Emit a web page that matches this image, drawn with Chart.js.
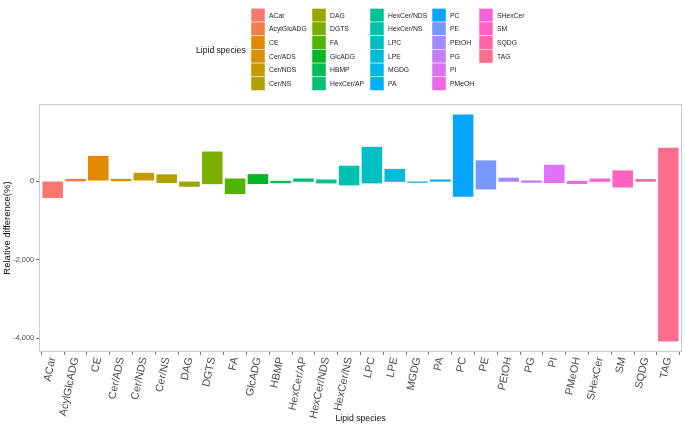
<!DOCTYPE html>
<html>
<head>
<meta charset="utf-8">
<script src="https://cdn.jsdelivr.net/npm/chart.js@4.4.1/dist/chart.umd.min.js"></script>
<style>
html,body{margin:0;padding:0;background:#fff;}
#wrap{width:685px;height:424px;position:relative;}
</style>
</head>
<body>
<div id="wrap"><canvas id="c" width="685" height="424"></canvas></div>
<script>
const categories = ["ACar","AcylGlcADG","CE","Cer/ADS","Cer/NDS","Cer/NS","DAG","DGTS","FA","GlcADG","HBMP","HexCer/AP","HexCer/NDS","HexCer/NS","LPC","LPE","MGDG","PA","PC","PE","PEtOH","PG","PI","PMeOH","SHexCer","SM","SQDG","TAG"];
const lowValues  = [-430, -10, 0, -5, 0, -50, -145, -80, -330, -75, -55, -20, -60, -110, -60, -20, -45, -15, -400, -215, -20, -45, -50, -75, -20, -165, -20, -4080];
const highValues = [0, 55, 640, 55, 210, 170, 0, 750, 65, 175, 5, 65, 40, 390, 870, 310, 0, 40, 1690, 525, 85, 15, 415, 5, 65, 270, 50, 850];
const yTicks = [-4000, -2000, 0];
const xTitle = "Lipid species";
const yTitle = "Relative difference(%)";
const legendTitle = "Lipid species";

// ggplot2 default hue palette (hcl, c=100, l=65)
function hcl(h, c, l) {
  const hr = h * Math.PI / 180;
  const U = c * Math.cos(hr), V = c * Math.sin(hr);
  const Xn = 95.047, Yn = 100, Zn = 108.883;
  const den = Xn + 15 * Yn + 3 * Zn;
  const un = 4 * Xn / den, vn = 9 * Yn / den;
  const Y = Yn * Math.pow((l + 16) / 116, 3);
  const up = U / (13 * l) + un, vp = V / (13 * l) + vn;
  const X = Y * 9 * up / (4 * vp);
  const Z = Y * (12 - 3 * up - 20 * vp) / (4 * vp);
  const x = X / 100, y = Y / 100, z = Z / 100;
  const lin = [
    3.2404542 * x - 1.5371385 * y - 0.4985314 * z,
    -0.9692660 * x + 1.8760108 * y + 0.0415560 * z,
    0.0556434 * x - 0.2040259 * y + 1.0572252 * z
  ];
  const out = lin.map(v => {
    v = v <= 0.0031308 ? 12.92 * v : 1.055 * Math.pow(v, 1 / 2.4) - 0.055;
    v = Math.max(0, Math.min(1, v));
    return Math.round(v * 255);
  });
  return 'rgb(' + out.join(',') + ')';
}
const n = categories.length;
const colors = categories.map((c, i) => hcl(15 + i * 360 / n, 100, 65));

const FONT = "'Liberation Sans', Arial, Helvetica, sans-serif";
Chart.defaults.font.family = FONT;

const panelBorder = {
  id: 'panelBorder',
  afterDatasetsDraw(chart) {
    const {ctx, chartArea: a} = chart;
    ctx.save();
    ctx.strokeStyle = '#cccccc';
    ctx.lineWidth = 1;
    ctx.strokeRect(Math.round(a.left) + 0.5, Math.round(a.top) + 0.5, Math.round(a.right - a.left) - 1, Math.round(a.bottom - a.top) - 1);
    ctx.restore();
  }
};

const legendPlugin = {
  id: 'ggLegend',
  afterDraw(chart) {
    const ctx = chart.ctx;
    const cols = [251, 312, 370, 432, 479];
    const top = 8.3, rowH = 13.7, keyW = 14;
    ctx.save();
    ctx.fillStyle = '#111';
    ctx.font = '8.6px ' + FONT;
    ctx.textBaseline = 'middle';
    ctx.textAlign = 'left';
    ctx.fillText(legendTitle, 196, 50.7);
    ctx.font = '6.8px ' + FONT;
    categories.forEach((c, i) => {
      const col = Math.floor(i / 6), row = i % 6;
      const x = cols[col], y = top + row * rowH;
      ctx.fillStyle = colors[i];
      ctx.fillRect(x, y, keyW, rowH);
      ctx.strokeStyle = 'rgba(255,255,255,0.8)';
      ctx.lineWidth = 0.6;
      ctx.strokeRect(x, y, keyW, rowH);
      ctx.fillStyle = '#222';
      ctx.fillText(c, x + 18, y + rowH / 2 + 0.5);
    });
    ctx.restore();
  }
};

new Chart(document.getElementById('c'), {
  type: 'bar',
  data: {
    datasets: [{
      data: categories.map((c, i) => ({x: i, y: [lowValues[i], highValues[i]]})),
      backgroundColor: colors,
      borderWidth: 0,
      borderSkipped: false,
      barPercentage: 0.9,
      categoryPercentage: 1
    }]
  },
  options: {
    responsive: false,
    animation: false,
    layout: {padding: {top: 104, right: 3, left: 0, bottom: 0}},
    plugins: {legend: {display: false}, tooltip: {enabled: false}},
    scales: {
      x: {
        type: 'linear',
        min: -0.6,
        max: 27.6,
        offset: false,
        afterBuildTicks: s => { s.ticks = categories.map((c, i) => ({value: i})); },
        afterFit: s => { s.height = 72; },
        ticks: {
          autoSkip: false, minRotation: 78, maxRotation: 78,
          callback: v => categories[v],
          font: {size: 10.8}, color: '#4d4d4d', padding: 1
        },
        grid: {drawOnChartArea: false, drawTicks: true, tickLength: 3, color: '#777'},
        border: {display: false},
        title: {display: true, text: xTitle, font: {size: 8.7}, color: '#111', padding: {top: 0, bottom: 0}}
      },
      y: {
        min: -4350,
        max: 1960,
        afterBuildTicks: s => { s.ticks = yTicks.map(v => ({value: v})); },
        afterFit: s => { s.width = 39; },
        ticks: {font: {size: 7.3}, color: '#4d4d4d', padding: 2},
        grid: {drawOnChartArea: false, drawTicks: true, tickLength: 3, color: '#777'},
        border: {display: false},
        title: {display: true, text: yTitle, font: {size: 9.5}, color: '#111', padding: {top: 2, bottom: 0}}
      }
    }
  },
  plugins: [panelBorder, legendPlugin]
});
</script>
</body>
</html>
